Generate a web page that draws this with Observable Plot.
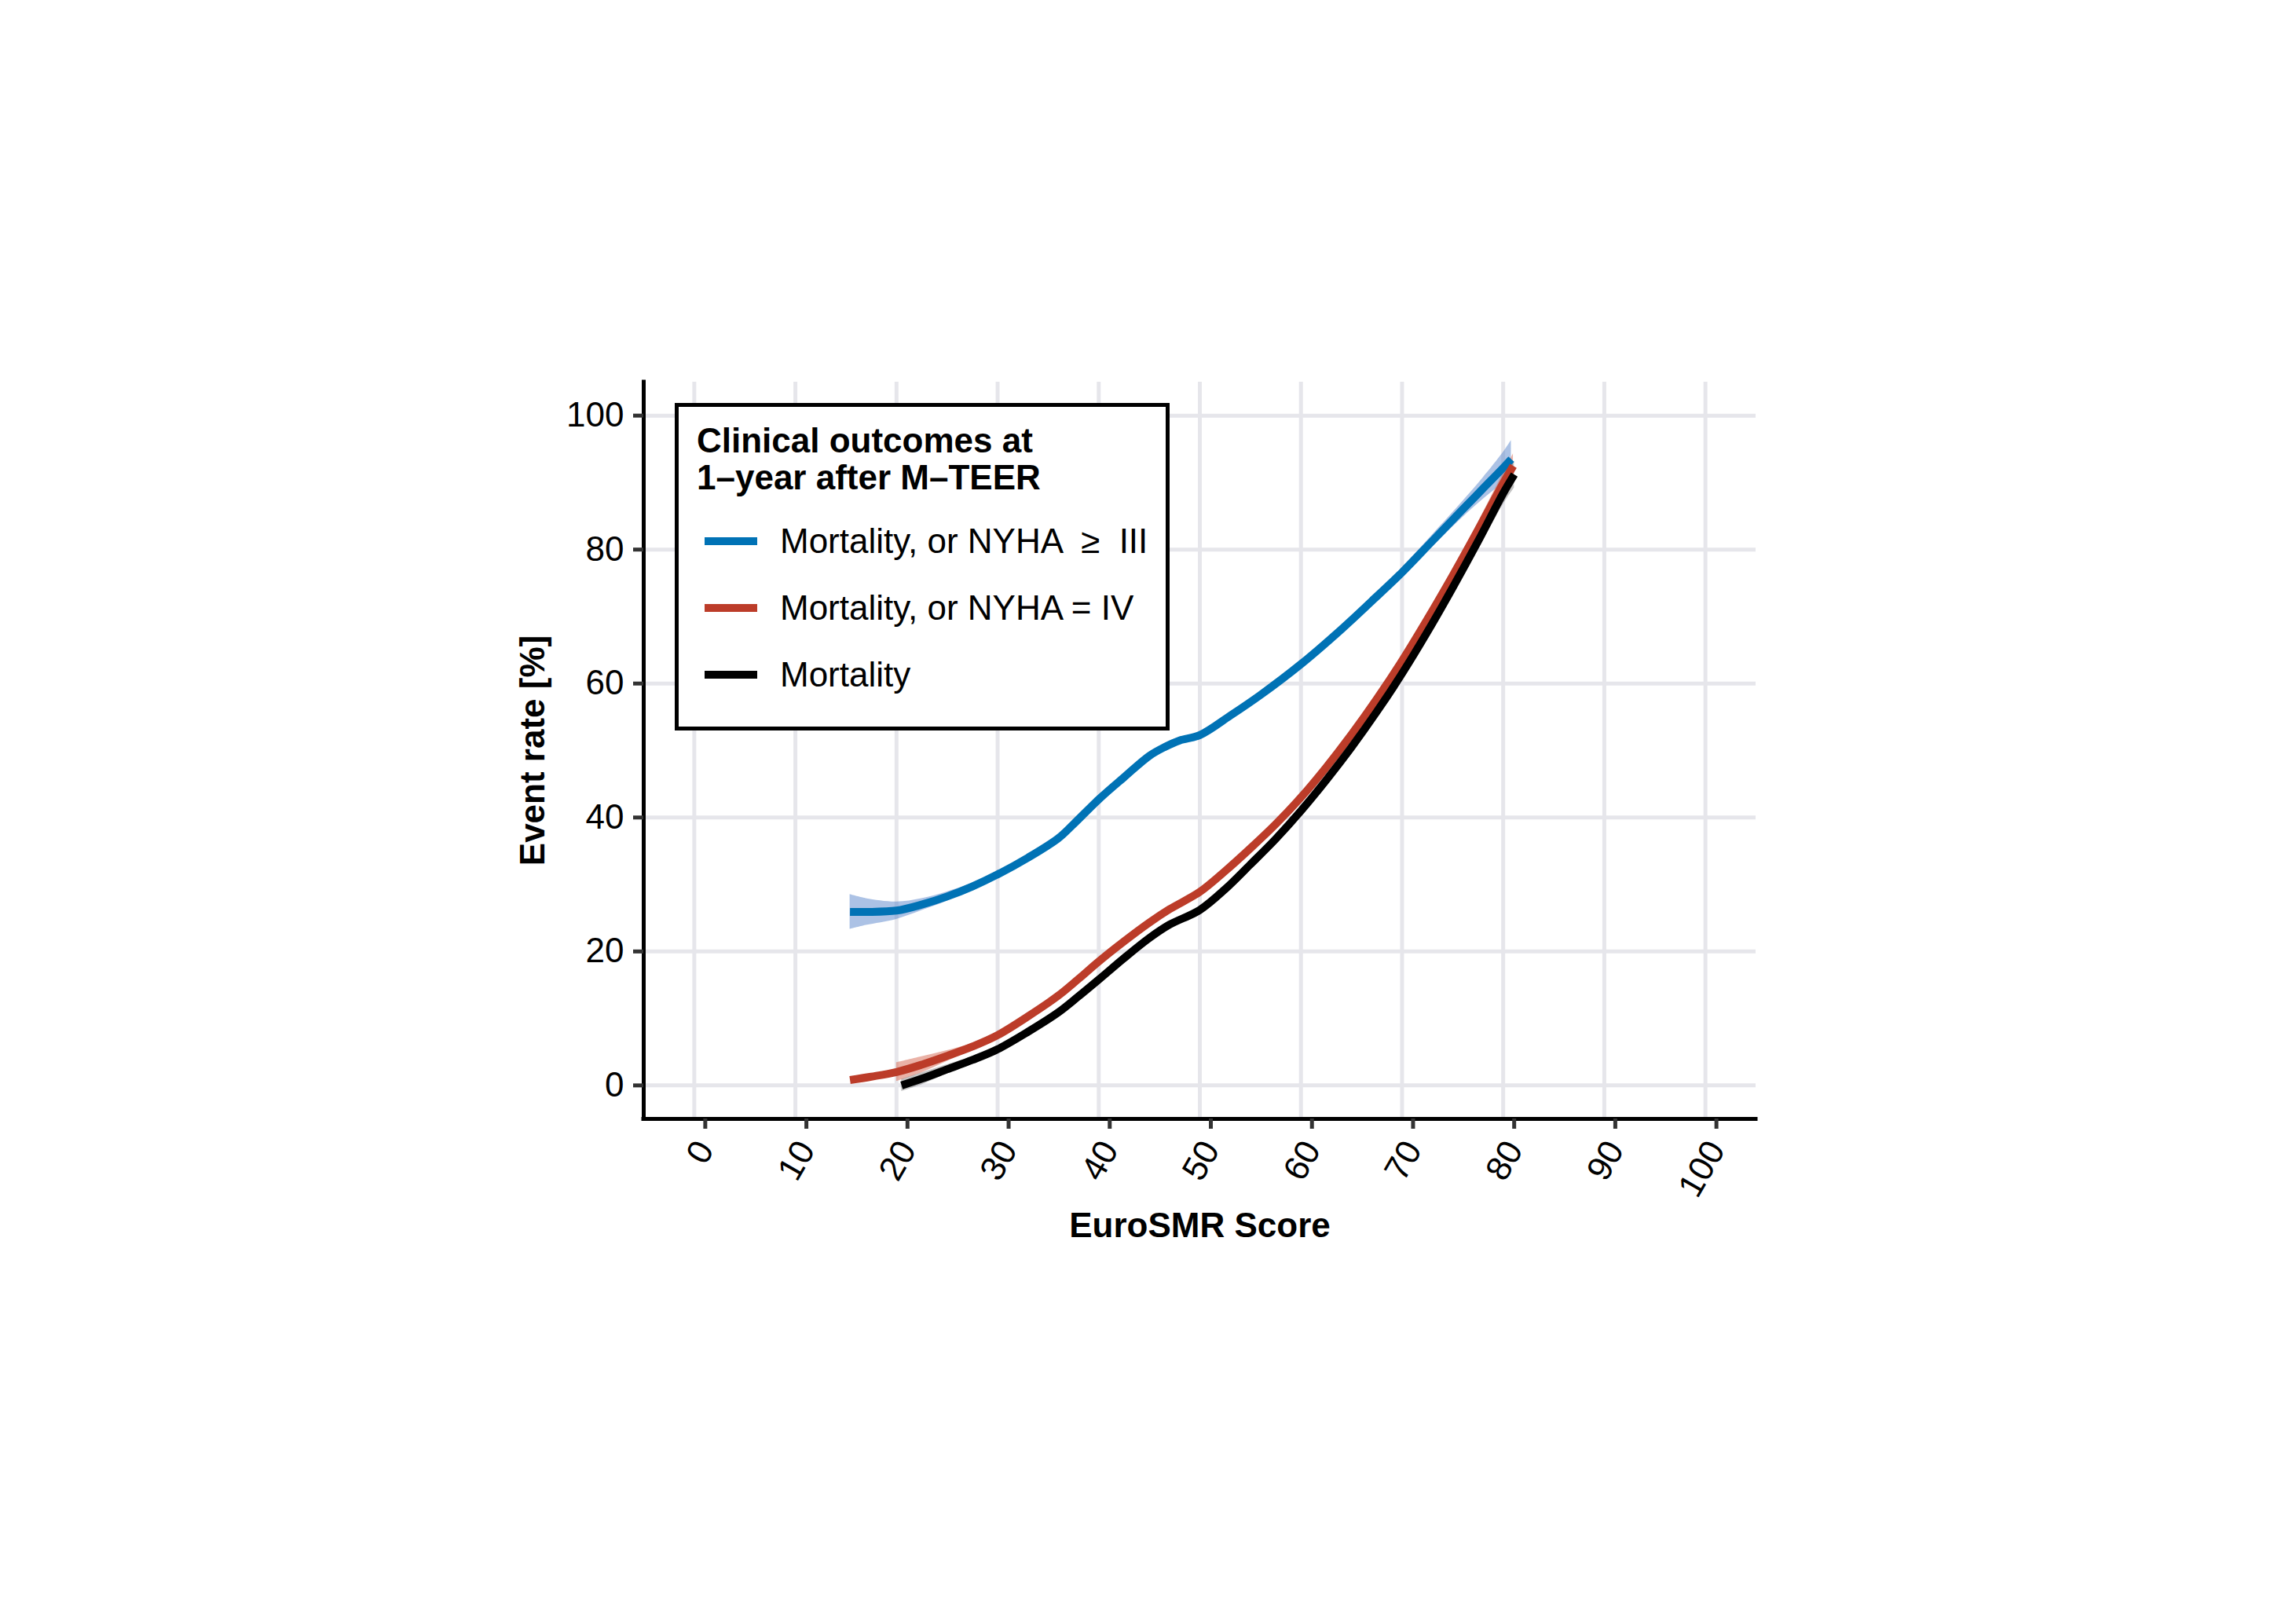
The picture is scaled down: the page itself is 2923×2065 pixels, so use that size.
<!DOCTYPE html>
<html>
<head>
<meta charset="utf-8">
<script src="https://cdn.jsdelivr.net/npm/d3@7"></script>
<script src="https://cdn.jsdelivr.net/npm/@observablehq/plot@0.6"></script>
<style>
  html, body { margin: 0; padding: 0; background: #fff; }
  #wrap { position: relative; width: 2923px; height: 2065px; font-family: "Liberation Sans", Arial, Helvetica, sans-serif; }
  #wrap svg { position: absolute; left: 0; top: 0; }
  #legend { position: absolute; left: 859px; top: 513px; width: 630px; height: 417px; box-sizing: border-box; border: 5px solid #000; background: #fff; }
  #legend .title { position: absolute; left: 23px; top: 19px; font-size: 44px; font-weight: bold; line-height: 47px; white-space: nowrap; color: #000; }
  #legend .item { position: absolute; left: 0; height: 60px; width: 100%; }
  #legend .sw { position: absolute; left: 33px; top: 25px; width: 67px; height: 10px; }
  #legend .lab { position: absolute; left: 129px; top: 0; font-size: 44px; line-height: 60px; white-space: pre; color: #000; }
</style>
</head>
<body>
<div id="wrap"></div>
<script>
// ---- data ----
const xTicks = [0, 10, 20, 30, 40, 50, 60, 70, 80, 90, 100];
const yTicks = [0, 20, 40, 60, 80, 100];
const xTitle = "EuroSMR Score";
const yTitle = "Event rate [%]";
const legendTitle = ["Clinical outcomes at", "1\u2013year after M\u2013TEER"];
const seriesNames = ["Mortality, or NYHA  \u2265  III", "Mortality, or NYHA = IV", "Mortality"];
const seriesColors = ["#0072B5", "#BC3C29", "#000000"];

// Mortality, or NYHA >= III
const nyha3X  = [15.4, 17, 20, 22.5, 25, 27.5, 30, 33, 36, 37.5, 40, 42.5, 45, 46.5, 48, 50, 53, 56, 60, 64, 67, 70, 73, 76, 78, 80, 80.8];
const nyha3Y  = [25.9, 25.9, 26.1, 27.0, 28.2, 29.7, 31.5, 34.0, 36.9, 39.0, 42.7, 46.0, 49.2, 50.5, 51.5, 52.3, 55.2, 58.3, 62.9, 68.1, 72.3, 76.6, 81.3, 86.0, 89.1, 92.2, 93.5];
const nyha3Lo = [23.3, 23.9, 24.8, 26.1, 27.5, 29.2, 31.1, 33.6, 36.5, 38.6, 42.3, 45.6, 48.8, 50.1, 51.1, 51.9, 54.8, 57.9, 62.4, 67.6, 71.7, 75.9, 80.4, 84.8, 87.5, 89.9, 90.7];
const nyha3Hi = [28.5, 27.9, 27.4, 27.9, 28.9, 30.2, 31.9, 34.4, 37.3, 39.4, 43.1, 46.4, 49.6, 50.9, 51.9, 52.7, 55.6, 58.7, 63.4, 68.6, 72.9, 77.3, 82.2, 87.2, 90.7, 94.5, 96.3];

// Mortality, or NYHA = IV
const nyha4X  = [15.4, 17.5, 20, 22.5, 25, 27.5, 30, 33, 36, 38, 40, 42.5, 45, 47, 50, 52.5, 55, 57.5, 60, 62.5, 65, 67.5, 70, 72.5, 75, 77.5, 80, 81];
const nyha4Y  = [0.8, 1.3, 2.0, 3.1, 4.4, 5.8, 7.5, 10.3, 13.4, 15.9, 18.5, 21.5, 24.3, 26.3, 28.9, 32.0, 35.4, 39.0, 43.0, 47.5, 52.4, 57.7, 63.4, 69.6, 76.1, 82.9, 89.9, 92.5];
const nyha4Lo = [NaN, NaN, 0.6, 1.9, 3.6, 5.3, 7.1, 9.9, 13.0, 15.5, 18.1, 21.1, 23.9, 25.9, 28.5, 31.6, 35.0, 38.6, 42.6, 47.1, 51.9, 57.2, 62.9, 69.0, 75.3, 81.8, 88.4, 90.7];
const nyha4Hi = [NaN, NaN, 3.4, 4.3, 5.2, 6.3, 7.9, 10.7, 13.8, 16.3, 18.9, 21.9, 24.7, 26.7, 29.3, 32.4, 35.8, 39.4, 43.4, 47.9, 52.9, 58.2, 63.9, 70.2, 76.9, 84.0, 91.4, 94.3];

// Mortality
const mortX  = [20.5, 22.5, 25, 27.5, 30, 33, 36, 38, 40, 42.5, 45, 47, 50, 52.5, 55, 57.5, 60, 62.5, 65, 67.5, 70, 72.5, 75, 77.5, 80, 81.1];
const mortY  = [0.0, 1.0, 2.4, 3.8, 5.4, 8.0, 10.9, 13.3, 15.8, 19.0, 22.0, 24.0, 26.2, 29.3, 33.0, 36.8, 41.0, 45.6, 50.5, 55.8, 61.5, 67.7, 74.3, 81.2, 88.4, 91.2];
const mortLo = [-0.9, 0.1, 1.7, 3.3, 5.0, 7.6, 10.5, 12.9, 15.4, 18.6, 21.6, 23.6, 25.8, 28.9, 32.6, 36.4, 40.6, 45.2, 50.0, 55.3, 60.9, 66.9, 73.3, 79.9, 86.7, 89.2];
const mortHi = [0.9, 1.9, 3.1, 4.3, 5.8, 8.4, 11.3, 13.7, 16.2, 19.4, 22.4, 24.4, 26.6, 29.7, 33.4, 37.2, 41.4, 46.0, 51.0, 56.3, 62.1, 68.5, 75.3, 82.5, 90.1, 93.2];

// ---- build tables ----
function table(xs, ys, lo, hi) {
  return xs.map((x, i) => ({x, y: ys[i], lo: lo[i], hi: hi[i]}));
}
const nyha3 = table(nyha3X, nyha3Y, nyha3Lo, nyha3Hi);
const nyha4 = table(nyha4X, nyha4Y, nyha4Lo, nyha4Hi);
const mort = table(mortX, mortY, mortLo, mortHi);

const font = "Liberation Sans, Arial, Helvetica, sans-serif";
const gridStyle = {stroke: "#e6e6eb", strokeOpacity: 1, strokeWidth: 5};
const curve = "catmull-rom";

const chart = Plot.plot({
  width: 2923,
  height: 2065,
  marginLeft: 819,
  marginRight: 688,
  marginTop: 486,
  marginBottom: 641,
  style: {fontFamily: font, fontSize: "44px", background: "transparent", color: "#000", overflow: "visible"},
  x: {domain: [-5, 105]},
  y: {domain: [-5, 105]},
  marks: [
    Plot.gridX(xTicks, gridStyle),
    Plot.gridY(yTicks, gridStyle),
    Plot.areaY(nyha3, {x: "x", y1: "lo", y2: "hi", fill: "#5a86cc", fillOpacity: 0.5, curve}),
    Plot.areaY(nyha4, {x: "x", y1: "lo", y2: "hi", fill: "#d9735f", fillOpacity: 0.55, curve}),
    Plot.areaY(mort, {x: "x", y1: "lo", y2: "hi", fill: "#555555", fillOpacity: 0.35, curve}),
    Plot.line(nyha3, {x: "x", y: "y", stroke: seriesColors[0], strokeWidth: 10, strokeLinecap: "butt", curve}),
    Plot.line(nyha4, {x: "x", y: "y", stroke: seriesColors[1], strokeWidth: 10, strokeLinecap: "butt", curve}),
    Plot.line(mort, {x: "x", y: "y", stroke: seriesColors[2], strokeWidth: 10, strokeLinecap: "butt", curve}),
    Plot.ruleX([-5], {stroke: "#000", strokeWidth: 5, strokeLinecap: "square"}),
    Plot.ruleY([-5], {stroke: "#000", strokeWidth: 5, strokeLinecap: "square"}),
    Plot.axisY(yTicks, {anchor: "left", tickSize: 13, tickPadding: 12, stroke: "#333", strokeWidth: 5, fill: "#000", fontSize: 44, label: null}),
    Plot.axisX(xTicks, {anchor: "bottom", tickSize: 13, tickPadding: 19, tickRotate: -60, dx: 14, stroke: "#333", strokeWidth: 5, fill: "#000", fontSize: 44, label: null}),
    Plot.text([xTitle], {text: d => d, frameAnchor: "bottom", dy: 136, textAnchor: "middle", lineAnchor: "middle", fontWeight: "bold", fontSize: 44, fill: "#000"}),
    Plot.text([yTitle], {text: d => d, frameAnchor: "left", dx: -141, rotate: -90, textAnchor: "middle", lineAnchor: "middle", fontWeight: "bold", fontSize: 44, fill: "#000"})
  ]
});

const wrap = document.getElementById("wrap");
wrap.appendChild(chart);

// ---- legend (HTML overlay) ----
const legend = document.createElement("div");
legend.id = "legend";
const t = document.createElement("div");
t.className = "title";
t.innerHTML = legendTitle.join("<br>");
legend.appendChild(t);
const itemCenters = [171, 256, 341];
seriesNames.forEach((name, i) => {
  const it = document.createElement("div");
  it.className = "item";
  it.style.top = (itemCenters[i] - 30) + "px";
  const sw = document.createElement("div");
  sw.className = "sw";
  sw.style.background = seriesColors[i];
  const lab = document.createElement("div");
  lab.className = "lab";
  lab.textContent = name;
  it.appendChild(sw);
  it.appendChild(lab);
  legend.appendChild(it);
});
wrap.appendChild(legend);
</script>
</body>
</html>
